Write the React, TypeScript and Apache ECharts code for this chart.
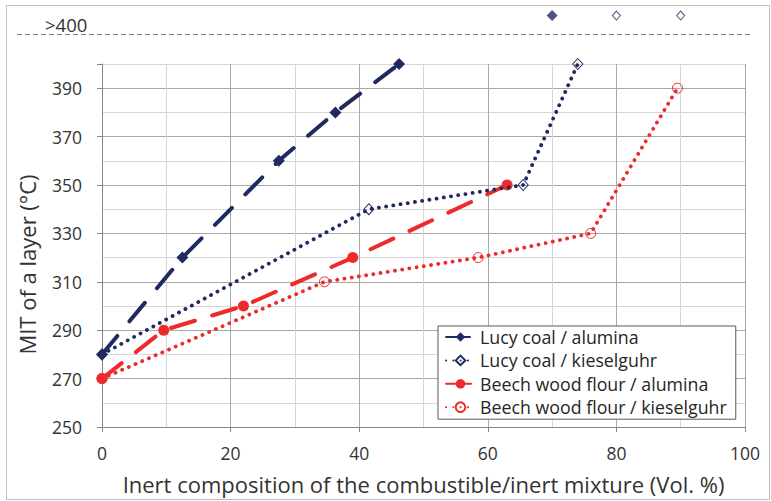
import React, { useEffect, useRef } from "react";
import * as echarts from "echarts";

// ---- data ----
const seriesNames = [
  "Lucy coal / alumina",
  "Lucy coal / kieselguhr",
  "Beech wood flour / alumina",
  "Beech wood flour / kieselguhr",
];

const lucyAluminaX = [0, 12.5, 27.5, 36.3, 46.2];
const lucyAluminaY = [280, 320, 360, 380, 400];

const lucyKieselX = [0, 41.5, 65.5, 74];
const lucyKieselY = [280, 340, 350, 400];

const beechAluminaX = [0, 9.6, 22, 39, 63];
const beechAluminaY = [270, 290, 300, 320, 350];

const beechKieselX = [0, 34.6, 58.5, 76, 89.5];
const beechKieselY = [270, 310, 320, 330, 390];

// results above 400 °C, drawn in the ">400" band
const lucyAluminaOverX = [70];
const lucyKieselOverX = [80, 90];
const overBandValue = 420;
const overLabel = ">400";

const yTickLabels = [250, 270, 290, 310, 330, 350, 370, 390];
const xTitle = "Inert composition of the combustible/inert mixture (Vol. %)";
const yTitle = "MIT of a layer (°C)";

const NAVY = "#1F2B5E";
const RED = "#EE2A2A";
const FONT = "Open Sans";
const TXT = "#333333";

const pairs = (xs: number[], ys: number[]) => xs.map((x, i) => [x, ys[i]]);
const band = (xs: number[]) => xs.map((x) => [x, overBandValue]);

export default function App() {
  const ref = useRef<HTMLDivElement>(null);
  useEffect(() => {
    if (!ref.current) return;
    const chart = echarts.init(ref.current, undefined, { renderer: "svg" });
    const option: any = {
      animation: false,
      backgroundColor: "#ffffff",
      grid: { left: 102, right: 26, top: 64, bottom: 74, containLabel: false },
      xAxis: {
        type: "value",
        min: 0,
        max: 100,
        interval: 20,
        name: xTitle,
        nameLocation: "middle",
        nameGap: 46,
        nameTextStyle: { fontFamily: FONT, fontSize: 22, color: TXT },
        axisLine: { show: true, lineStyle: { color: "#868686", width: 1 } },
        axisTick: { show: true, length: 5, lineStyle: { color: "#868686" } },
        axisLabel: { margin: 17, fontFamily: FONT, fontSize: 17.5, color: TXT },
        splitLine: { show: true, lineStyle: { color: "#a8a8a8", width: 1 } },
        minorTick: { show: false, splitNumber: 2 },
        minorSplitLine: { show: true, lineStyle: { color: "#d6d6d6", width: 1 } },
      },
      yAxis: [
        {
          type: "value",
          min: 250,
          max: 400,
          interval: 10,
          name: yTitle,
          nameLocation: "middle",
          nameGap: 64,
          nameTextStyle: {
            fontFamily: FONT,
            fontSize: 22,
            color: TXT,
            padding: [0, 38, 0, 0],
          },
          axisLine: { show: true, lineStyle: { color: "#868686", width: 1 } },
          axisTick: { show: false },
          axisLabel: {
            margin: 20,
            fontFamily: FONT,
            fontSize: 17.5,
            color: TXT,
            formatter: (v: number) => (yTickLabels.indexOf(v) >= 0 ? String(v) : ""),
          },
          splitLine: { show: true, lineStyle: { color: ["#a8a8a8", "#d6d6d6"], width: 1 } },
        },
        {
          // tick marks only, every 20 °C starting at 250
          type: "value",
          min: 0,
          max: 150,
          interval: 20,
          position: "left",
          axisLine: { show: false },
          axisTick: { show: true, length: 5, lineStyle: { color: "#868686" } },
          axisLabel: { show: false },
          splitLine: { show: false },
        },
      ],
      legend: {
        data: seriesNames,
        orient: "vertical",
        left: 438,
        top: 326,
        padding: [1, 9, 2, 7],
        itemWidth: 29,
        itemHeight: 12,
        itemGap: 3.4,
        borderColor: "#595959",
        borderWidth: 1,
        backgroundColor: "#ffffff",
        textStyle: { fontFamily: FONT, fontSize: 17.8, color: "#262626", lineHeight: 20 },
      },
      graphic: [
        {
          type: "rect",
          silent: true,
          shape: { x: 6.5, y: 5.5, width: 763, height: 494 },
          style: { fill: "none", stroke: "#c0c0c0", lineWidth: 1 },
          z: -10,
        },
        {
          type: "line",
          silent: true,
          shape: { x1: 17, y1: 34.5, x2: 750, y2: 34.5 },
          style: { stroke: "#7f7f7f", lineWidth: 1, lineDash: [5, 3] },
        },
        {
          type: "text",
          silent: true,
          x: 45,
          y: 24,
          style: {
            text: overLabel,
            fontFamily: FONT,
            fontSize: 18.5,
            fill: TXT,
            textAlign: "left",
            textVerticalAlign: "middle",
          },
        },
      ],
      series: [
        {
          name: seriesNames[0],
          type: "line",
          clip: false,
          data: pairs(lucyAluminaX, lucyAluminaY),
          symbol: "diamond",
          symbolSize: 12,
          itemStyle: { color: NAVY },
          lineStyle: { color: NAVY, width: 4, type: [24, 19], cap: "round" },
          z: 5,
        },
        {
          name: seriesNames[1],
          type: "line",
          clip: false,
          data: pairs(lucyKieselX, lucyKieselY),
          symbol: "diamond",
          symbolSize: [10, 11],
          itemStyle: { color: "rgba(255,255,255,0)", borderColor: NAVY, borderWidth: 1 },
          lineStyle: { color: NAVY, width: 3.8, type: [0.1, 7.2], cap: "round" },
          z: 4,
        },
        {
          name: seriesNames[2],
          type: "line",
          clip: false,
          data: pairs(beechAluminaX, beechAluminaY),
          symbol: "circle",
          symbolSize: 11,
          itemStyle: { color: RED },
          lineStyle: { color: RED, width: 4, type: [25, 18], cap: "round" },
          z: 3,
        },
        {
          name: seriesNames[3],
          type: "line",
          clip: false,
          data: pairs(beechKieselX, beechKieselY),
          symbol: "circle",
          symbolSize: 10,
          itemStyle: { color: "rgba(255,255,255,0)", borderColor: RED, borderWidth: 1 },
          lineStyle: { color: RED, width: 3.8, type: [0.1, 7.2], cap: "round" },
          z: 2,
        },
        {
          name: seriesNames[0] + " (>400)",
          type: "scatter",
          clip: false,
          data: band(lucyAluminaOverX),
          symbol: "diamond",
          symbolSize: 11,
          itemStyle: { color: NAVY },
        },
        {
          name: seriesNames[1] + " (>400)",
          type: "scatter",
          clip: false,
          data: band(lucyKieselOverX),
          symbol: "diamond",
          symbolSize: [8, 9],
          itemStyle: { color: "#ffffff", borderColor: NAVY, borderWidth: 1 },
        },
      ],
    };
    chart.setOption(option);
    return () => chart.dispose();
  }, []);
  return (
    <div
      ref={ref}
      style={{ position: "fixed", left: 0, top: 0, width: 771, height: 501, background: "#fff" }}
    />
  );
}
